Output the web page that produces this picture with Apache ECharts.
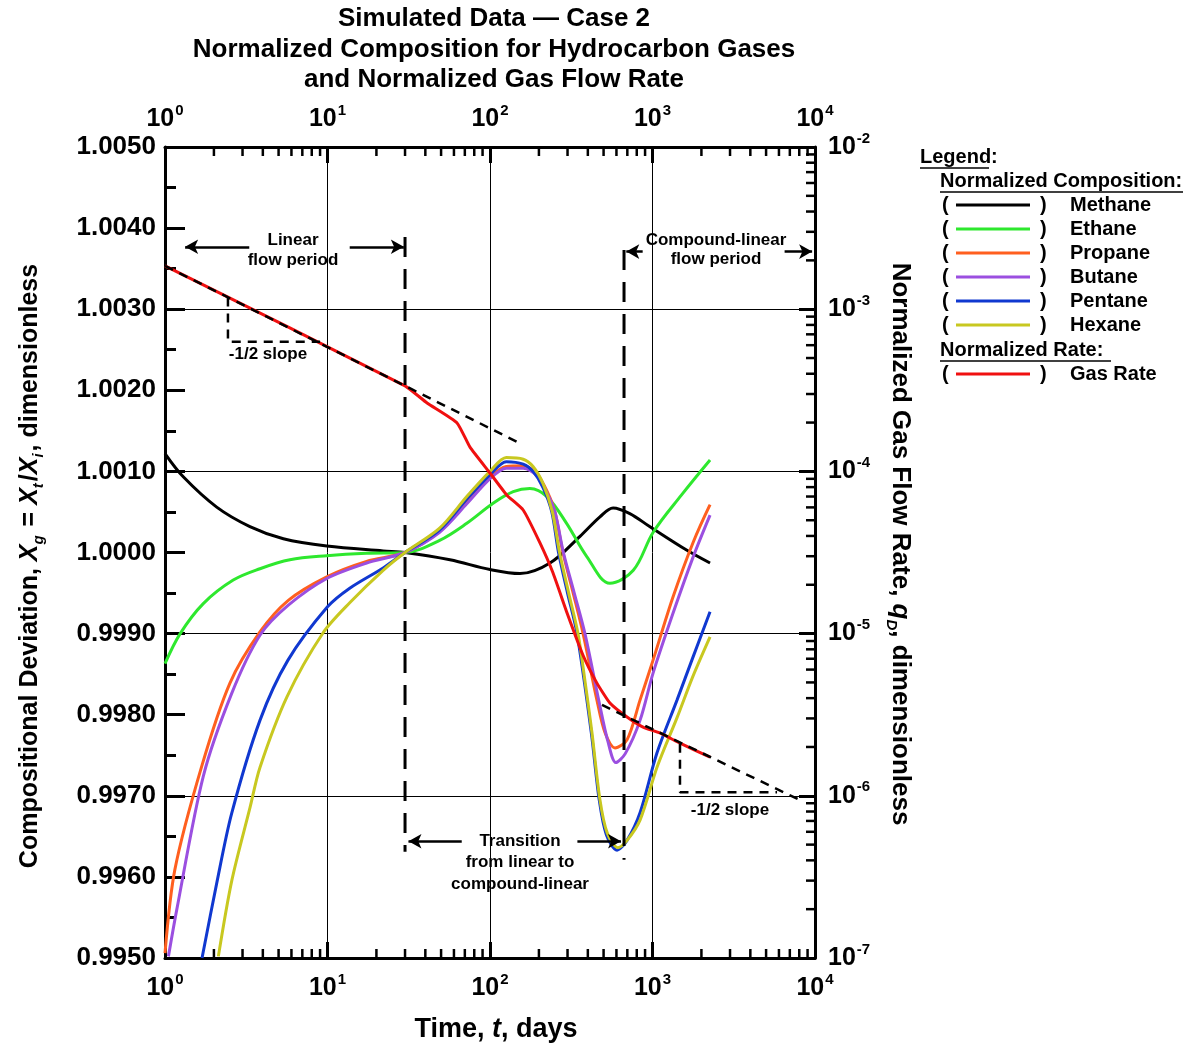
<!DOCTYPE html>
<html><head><meta charset="utf-8">
<script src="https://cdn.jsdelivr.net/npm/echarts@6/dist/echarts.min.js"></script>
<style>html,body{margin:0;padding:0;background:#fff}#c{width:1203px;height:1047px}</style>
</head><body><div id="c"></div>
<script>
// ---------- DATA ----------
const methaneT = [1, 1.3, 2.08, 3.33, 5.35, 9.9, 22, 30, 56.7, 100, 153, 234, 358, 475, 572, 725, 960, 1620, 2260];
const methaneX = [1.00122, 1.00093, 1.00056, 1.00032, 1.00017, 1.00008, 1.00002, 1.0, 0.99991, 0.99979, 0.99974, 0.99987, 1.0002, 1.00044, 1.00055, 1.00048, 1.00032, 1.00003, 0.99987];

const ethaneT = [1, 1.24, 1.72, 2.63, 3.84, 5.87, 9.9, 17.4, 30, 49, 72, 105, 139, 176, 224, 296, 394, 547, 762, 1010, 1510, 2260];
const ethaneX = [0.99863, 0.999, 0.99937, 0.99966, 0.9998, 0.99991, 0.99996, 0.99999, 1.0, 1.00015, 1.00036, 1.00061, 1.00075, 1.00079, 1.00069, 1.00036, 0.99995, 0.99962, 0.99978, 1.00025, 1.00071, 1.00114];

const propaneT = [1, 1.15, 1.68, 2.51, 3.84, 5.74, 9.9, 17.4, 30, 49, 72, 100, 126, 160, 194, 225, 251, 281, 325, 374, 455, 510, 588, 697, 838, 1007, 1337, 1775, 2260];
const propaneX = [0.99506, 0.99609, 0.99736, 0.99839, 0.99902, 0.99941, 0.9997, 0.99989, 1.0, 1.00026, 1.00062, 1.00093, 1.00106, 1.00107, 1.00097, 1.00075, 1.0005, 1.0, 0.9995, 0.999, 0.99818, 0.99778, 0.99759, 0.99769, 0.99818, 0.99867, 0.99945, 1.00012, 1.00059];

const butaneT = [1.05, 1.18, 1.72, 2.57, 3.84, 5.74, 9.9, 17.4, 30, 49, 72, 100, 126, 160, 194, 225, 251, 283, 330, 384, 470, 530, 595, 680, 838, 1007, 1337, 1775, 2260];
const butaneX = [0.99502, 0.99559, 0.99724, 0.99826, 0.99898, 0.99935, 0.99968, 0.99987, 1.0, 1.00025, 1.0006, 1.00091, 1.00104, 1.00104, 1.00095, 1.00073, 1.0005, 1.0, 0.9995, 0.999, 0.99815, 0.99768, 0.99741, 0.99752, 0.99793, 0.99851, 0.99925, 0.99994, 1.00046];

const pentaneT = [1.69, 2.08, 2.57, 3.84, 5.7, 10, 13.7, 22, 30, 49, 72, 100, 126, 160, 184, 212, 240, 264, 300, 343, 420, 470, 520, 605, 697, 838, 1066, 1415, 1775, 2260];
const pentaneX = [0.995, 0.99592, 0.99678, 0.99793, 0.99867, 0.99933, 0.99956, 0.99981, 1.0, 1.00028, 1.00066, 1.00096, 1.00112, 1.00109, 1.001, 1.0008, 1.0005, 1.0, 0.9995, 0.999, 0.99778, 0.99695, 0.99652, 0.99633, 0.99645, 0.99679, 0.99753, 0.99818, 0.99871, 0.99927];

const hexaneT = [2.13, 2.58, 3.34, 3.84, 5.63, 9.4, 13.7, 22, 30, 49, 72, 100, 126, 160, 184, 212, 242, 268, 305, 348, 385, 424, 475, 527, 613, 697, 838, 1070, 1420, 1770, 2260];
const hexaneX = [0.99502, 0.99596, 0.99686, 0.99735, 0.99822, 0.99901, 0.99938, 0.99978, 1.0, 1.0003, 1.00069, 1.001, 1.00117, 1.00115, 1.00106, 1.00085, 1.0005, 1.0, 0.9995, 0.999, 0.9984, 0.99778, 0.99695, 0.99654, 0.99636, 0.99645, 0.9967, 0.99736, 0.99797, 0.99847, 0.99896];

const rateT = [1, 30, 41, 62.7, 75.3, 100, 127, 160, 203, 244, 298, 373, 455, 547, 697, 875, 1110, 1477, 2260];
const rateQ = [1.85e-3, 3.37e-4, 2.64e-4, 1.99e-4, 1.41e-4, 9.77e-5, 7.14e-5, 5.78e-5, 3.62e-5, 2.37e-5, 1.34e-5, 7.38e-6, 4.95e-6, 3.73e-6, 3.06e-6, 2.65e-6, 2.44e-6, 2.11e-6, 1.73e-6];

// reference (annotation) lines
const slopeLine1T = [1, 147];            const slopeLine1Q = [1.85e-3, 1.52e-4];
const slopeLine2T = [489, 8090];         const slopeLine2Q = [3.63e-6, 9.4e-7];
const triangle1T = [2.44, 2.44, 9.0];    const triangle1Q = [1.18e-3, 6.3e-4, 6.3e-4];
const triangle2T = [1476, 1476, 5840];   const triangle2Q = [2.09e-6, 1.05e-6, 1.05e-6];
const periodLine1T = [30, 30];           const periodLine1X = [1.00389, 0.99631];
const periodLine2T = [668, 668];         const periodLine2X = [1.00373, 0.99621];

// tick labels
const yLeftTicks = ['0.9950','0.9960','0.9970','0.9980','0.9990','1.0000','1.0010','1.0020','1.0030','1.0040','1.0050'];
const minorMultipliers = [2, 3, 4, 5, 6, 7, 8, 9];
const xDecades = [1, 10, 100, 1000];
const qDecades = [1e-7, 1e-6, 1e-5, 1e-4, 1e-3];

// ---------- helpers ----------
const zip = (a, b) => a.map((v, i) => [v, b[i]]);
const xMinor = []; xDecades.forEach(d => minorMultipliers.forEach(m => xMinor.push(d * m)));
const qMinor = []; qDecades.forEach(d => minorMultipliers.forEach(m => qMinor.push(d * m)));

const F = '"Liberation Sans", Arial, sans-serif';

const C = {methane:'#000000', ethane:'#2ee82e', propane:'#ff5f1f', butane:'#9b4fe0', pentane:'#1038d0', hexane:'#c8c820', rate:'#f01010'};

function curve(name, data, color, yIdx, smooth) {
  return {name, type:'line', data, xAxisIndex:0, yAxisIndex:yIdx, showSymbol:false, symbol:'none',
    smooth: smooth, lineStyle:{color, width:3}, itemStyle:{color}, z:3, clip:true};
}
function dashed(data, yIdx, width, dash) {
  return {type:'line', data, xAxisIndex:0, yAxisIndex:yIdx, showSymbol:false, symbol:'none', silent:true,
    lineStyle:{color:'#000', width, type:dash}, z:5, clip:false};
}
function arrow(from, to) {
  return [{coord:from}, {coord:to}];
}

const supRich = {
  b:{fontFamily:F, fontWeight:'bold', fontSize:25, color:'#000', lineHeight:32},
  s:{fontFamily:F, fontWeight:'bold', fontSize:15, color:'#000', verticalAlign:'top', lineHeight:32, padding:[0,0,0,1]}
};
const expFmt = v => '{b|10}{s|' + Math.round(Math.log10(v)) + '}';

const xAxisBase = {
  type:'log', logBase:10, min:1, max:10000,
  axisLine:{show:true, lineStyle:{color:'#000', width:3}},
  axisTick:{show:true, inside:true, length:16, lineStyle:{color:'#000', width:3}},
  minorTick:{show:false}, splitLine:{show:false},
  axisLabel:{formatter:expFmt, rich:supRich, margin:14}
};

const option = {
  animation:false,
  backgroundColor:'#fff',
  grid:{left:165, right:388, top:147, bottom:89, containLabel:false},
  xAxis:[
    Object.assign({}, xAxisBase, {position:'bottom', splitLine:{show:true, lineStyle:{color:'#000', width:1}}}),
    Object.assign({}, xAxisBase, {position:'top', axisLabel:{formatter:expFmt, rich:supRich, margin:12}})
  ],
  yAxis:[
    {type:'value', position:'left', min:0.995, max:1.005, interval:0.001,
      axisLine:{show:true, lineStyle:{color:'#000', width:3}},
      axisTick:{show:true, inside:true, length:20, lineStyle:{color:'#000', width:3}},
      minorTick:{show:true, splitNumber:2, length:11, lineStyle:{color:'#000', width:3}},
      splitLine:{show:false},
      axisLabel:{formatter:v => yLeftTicks[Math.round((v - 0.995) * 1000)], fontFamily:F, fontWeight:'bold', fontSize:26, color:'#000', margin:9}
    },
    {type:'log', logBase:10, position:'right', min:1e-7, max:1e-2,
      axisLine:{show:true, lineStyle:{color:'#000', width:3}},
      axisTick:{show:true, inside:true, length:16, lineStyle:{color:'#000', width:3}},
      splitLine:{show:true, lineStyle:{color:'#000', width:1}},
      axisLabel:{formatter:expFmt, rich:supRich, margin:13}
    }
  ],
  series:[
    {type:'custom', xAxisIndex:0, yAxisIndex:0, silent:true, z:6, data:xMinor.map(v => [v, 1]),
      renderItem(params, api){
        const x = api.coord([api.value(0), 1])[0]; const cs = params.coordSys;
        return {type:'group', children:[
          {type:'line', shape:{x1:x, y1:cs.y + cs.height, x2:x, y2:cs.y + cs.height - 9}, style:{stroke:'#000', lineWidth:2.5}},
          {type:'line', shape:{x1:x, y1:cs.y, x2:x, y2:cs.y + 9}, style:{stroke:'#000', lineWidth:2.5}}]};
      }},
    {type:'custom', xAxisIndex:0, yAxisIndex:1, silent:true, z:6, data:qMinor.map(v => [1, v]),
      renderItem(params, api){
        const y = api.coord([1, api.value(1)])[1]; const cs = params.coordSys;
        const r = cs.x + cs.width;
        return {type:'line', shape:{x1:r, y1:y, x2:r - 9, y2:y}, style:{stroke:'#000', lineWidth:2.5}};
      }},
    curve('Methane', zip(methaneT, methaneX), C.methane, 0, 0.35),
    curve('Ethane', zip(ethaneT, ethaneX), C.ethane, 0, 0.35),
    curve('Propane', zip(propaneT, propaneX), C.propane, 0, 0.3),
    curve('Butane', zip(butaneT, butaneX), C.butane, 0, 0.3),
    curve('Pentane', zip(pentaneT, pentaneX), C.pentane, 0, 0.3),
    curve('Hexane', zip(hexaneT, hexaneX), C.hexane, 0, 0.3),
    dashed(zip(slopeLine1T, slopeLine1Q), 1, 2.5, [9, 7]),
    dashed(zip(slopeLine2T, slopeLine2Q), 1, 2.5, [9, 7]),
    dashed(zip(triangle1T, triangle1Q), 1, 2.5, [9, 7]),
    dashed(zip(triangle2T, triangle2Q), 1, 2.5, [9, 7]),
    curve('Gas Rate', zip(rateT, rateQ), C.rate, 1, 0.15),
    dashed(zip(periodLine1T, periodLine1X), 0, 3, [20, 12]),
    dashed(zip(periodLine2T, periodLine2X), 0, 3, [20, 12]),
    {type:'line', data:[], xAxisIndex:0, yAxisIndex:0, silent:true,
      markLine:{silent:true, symbol:['none','arrow'], symbolSize:[11, 13], label:{show:false},
        lineStyle:{color:'#000', width:2.5, type:'solid'}, animation:false,
        data:[
          arrow([3.3, 1.00377], [1.33, 1.00377]),
          arrow([13.7, 1.00377], [29.5, 1.00377]),
          arrow([870, 1.00371], [690, 1.00371]),
          arrow([6500, 1.00371], [9600, 1.00371]),
          arrow([67, 0.99644], [31.5, 0.99644]),
          arrow([345, 0.99644], [640, 0.99644])
        ]}}
  ],
  graphic:[]
};

const G = option.graphic;
function txt(x, y, text, font, align) {
  G.push({type:'text', x, y, silent:true, z:50, style:{text, font, fill:'#000', align:align || 'center', verticalAlign:'middle'}});
}
function uline(x1, x2, y) {
  G.push({type:'line', silent:true, z:50, shape:{x1, y1:y, x2, y2:y}, style:{stroke:'#000', lineWidth:1.5}});
}
// title
txt(494, 19, 'Simulated Data \u2014 Case 2', 'bold 26px ' + F);
txt(494, 50, 'Normalized Composition for Hydrocarbon Gases', 'bold 26px ' + F);
txt(494, 80, 'and Normalized Gas Flow Rate', 'bold 26px ' + F);
// x axis title
G.push({type:'text', x:496, y:1030, silent:true, style:{
  text:'{n|Time, }{i|t}{n|, days}', align:'center', verticalAlign:'middle',
  rich:{n:{font:'bold 27px ' + F, fill:'#000'}, i:{font:'italic bold 27px ' + F, fill:'#000'}}}});
// left axis title
G.push({type:'text', x:30, y:566, rotation:Math.PI / 2, silent:true, style:{
  text:'{n|Compositional Deviation, }{i|X}{sub|g}{n| = }{i|X}{sub|t}{n|/}{i|X}{sub|i}{n|, dimensionless}',
  align:'center', verticalAlign:'middle',
  rich:{n:{font:'bold 25px ' + F, fill:'#000', lineHeight:32},
        i:{font:'italic bold 25px ' + F, fill:'#000', lineHeight:32},
        sub:{font:'italic bold 15px ' + F, fill:'#000', verticalAlign:'bottom', lineHeight:32, padding:[0,2,0,0]}}}});
// right axis title
G.push({type:'text', x:900, y:544, rotation:-Math.PI / 2, silent:true, style:{
  text:'{n|Normalized Gas Flow Rate, }{i|q}{sub|D}{n|, dimensionless}',
  align:'center', verticalAlign:'middle',
  rich:{n:{font:'bold 26px ' + F, fill:'#000', lineHeight:32},
        i:{font:'italic bold 26px ' + F, fill:'#000', lineHeight:32},
        sub:{font:'italic bold 15px ' + F, fill:'#000', verticalAlign:'bottom', lineHeight:32}}}});
// annotations
const AF = 'bold 17px ' + F;
txt(293, 240, 'Linear', AF); txt(293, 260, 'flow period', AF);
txt(716, 240, 'Compound-linear', AF); txt(716, 259, 'flow period', AF);
txt(520, 841, 'Transition', AF); txt(520, 862, 'from linear to', AF); txt(520, 884, 'compound-linear', AF);
txt(268, 354, '-1/2 slope', AF); txt(730, 810, '-1/2 slope', AF);
// legend
const LF = 'bold 20px ' + F;
txt(920, 157, 'Legend:', LF, 'left'); uline(920, 989, 168);
txt(940, 181, 'Normalized Composition:', LF, 'left'); uline(940, 1183, 192);
const legendItems = [['Methane', C.methane, 205], ['Ethane', C.ethane, 229], ['Propane', C.propane, 253],
  ['Butane', C.butane, 277], ['Pentane', C.pentane, 301], ['Hexane', C.hexane, 325], ['Gas Rate', C.rate, 374]];
txt(940, 350, 'Normalized Rate:', LF, 'left'); uline(940, 1111, 361);
legendItems.forEach(([n, col, y]) => {
  txt(942, y, '(', LF, 'left'); txt(1040, y, ')', LF, 'left'); txt(1070, y, n, LF, 'left');
  G.push({type:'line', silent:true, z:50, shape:{x1:956, y1:y, x2:1030, y2:y}, style:{stroke:col, lineWidth:3}});
});

const chart = echarts.init(document.getElementById('c'), null, {renderer:'canvas'});
chart.setOption(option);
</script>
</body></html>
